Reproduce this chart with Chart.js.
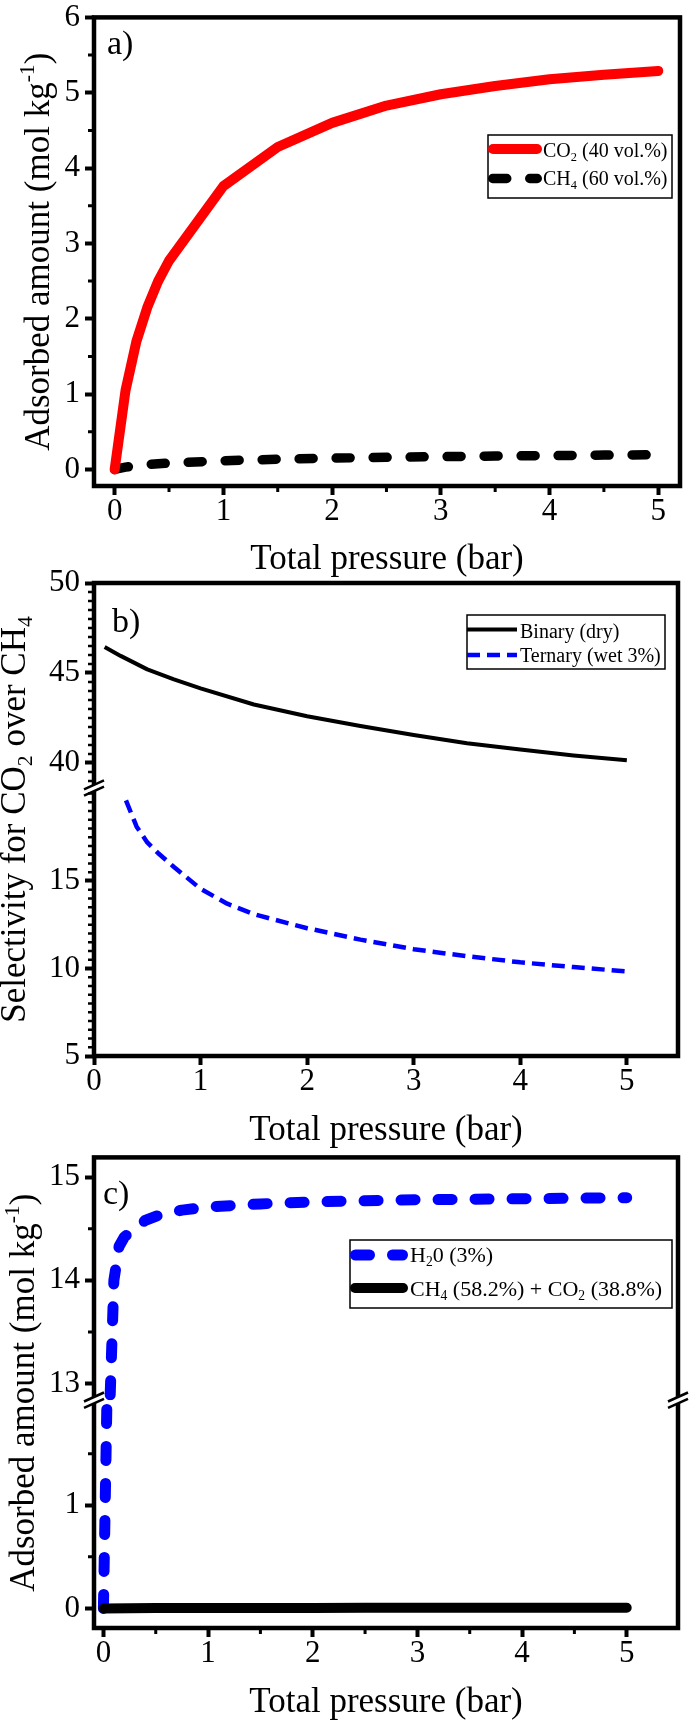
<!DOCTYPE html>
<html>
<head>
<meta charset="utf-8">
<script src="https://cdn.jsdelivr.net/npm/chart.js@4/dist/chart.umd.min.js"></script>
<style>
  html, body { margin: 0; padding: 0; background: #fff; }
  #wrap { position: relative; width: 690px; height: 1720px; overflow: hidden; }
  canvas { position: absolute; left: 0; }
</style>
</head>
<body>
<div id="wrap">
  <canvas id="chartA" width="690" height="578" style="top:0px"></canvas>
  <canvas id="chartB" width="690" height="590" style="top:560px"></canvas>
  <canvas id="chartC" width="690" height="580" style="top:1140px"></canvas>
</div>
<script>
var SERIF = '"Liberation Serif", "Times New Roman", serif';

// a) adsorption of the CO2/CH4 (40/60) mixture
var aPressure = [0, 0.1, 0.2, 0.3, 0.4, 0.5, 1, 1.5, 2, 2.5, 3, 3.5, 4, 4.5, 5];
var aCO2 = [0, 1.05, 1.7, 2.15, 2.5, 2.77, 3.76, 4.28, 4.6, 4.83, 4.98, 5.09, 5.18, 5.24, 5.29];
var aCH4 = [0, 0.03, 0.05, 0.065, 0.075, 0.085, 0.115, 0.135, 0.15, 0.16, 0.17, 0.178, 0.184, 0.19, 0.195];
var aXTicks = [0, 1, 2, 3, 4, 5];
var aYTicks = [0, 1, 2, 3, 4, 5, 6];

// b) selectivity CO2 over CH4
var bPressureDry = [0.1, 0.25, 0.5, 0.75, 1, 1.5, 2, 2.5, 3, 3.5, 4, 4.5, 5];
var bBinary = [46.45, 45.95, 45.2, 44.65, 44.15, 43.25, 42.6, 42.05, 41.55, 41.1, 40.75, 40.42, 40.15];
var bPressureWet = [0.3, 0.4, 0.5, 0.6, 0.75, 1, 1.25, 1.5, 2, 2.5, 3, 3.5, 4, 4.5, 5];
var bTernary = [19.6, 18.1, 17.2, 16.6, 15.8, 14.55, 13.7, 13.1, 12.3, 11.65, 11.1, 10.7, 10.35, 10.08, 9.83];
var bXTicks = [0, 1, 2, 3, 4, 5];
var bYLowTicks = [5, 10, 15];
var bYHighTicks = [40, 45, 50];

// c) ternary mixture with 3% water
var cPressure = [0, 0.05, 0.065, 0.1, 0.15, 0.2, 0.3, 0.4, 0.5, 0.75, 1, 1.5, 2, 2.5, 3, 3.5, 4, 4.5, 5];
var cH2O = [0, 3.0, 12.9, 14.0, 14.33, 14.42, 14.5, 14.58, 14.62, 14.68, 14.71, 14.74, 14.76, 14.77, 14.78, 14.785, 14.79, 14.795, 14.8];
var cGasPressure = [0, 0.5, 1, 1.5, 2, 2.5, 3, 3.5, 4, 4.5, 5];
var cGas = [0, 0.003, 0.004, 0.005, 0.005, 0.006, 0.006, 0.006, 0.007, 0.007, 0.007];
var cXTicks = [0, 1, 2, 3, 4, 5];
var cYLowTicks = [0, 1];
var cYHighTicks = [13, 14, 15];


function pts(xs, ys) {
    return xs.map(function (x, i) { return {x: x, y: ys[i]}; });
}

function minors(from, to, step, majors) {
    var out = [];
    for (var v = from; v <= to + 1e-9; v += step) {
        var r = Math.round(v * 100) / 100;
        if (majors.indexOf(r) < 0) out.push(r);
    }
    return out;
}

// text with unicode sub/superscripts drawn as small raised/lowered digits
var SUBS = {'₀':'0','₁':'1','₂':'2','₃':'3','₄':'4','₅':'5','₆':'6','₇':'7','₈':'8','₉':'9'};
var SUPS = {'⁻':'-','⁰':'0','¹':'1','²':'2','³':'3'};

function runsOf(text) {
    var runs = [];
    for (var ch of text) {
        var kind = SUBS[ch] ? 'sub' : (SUPS[ch] ? 'sup' : 'n');
        var c = SUBS[ch] || SUPS[ch] || ch;
        var last = runs[runs.length - 1];
        if (last && last.kind === kind) last.t += c;
        else runs.push({t: c, kind: kind});
    }
    return runs;
}

function fontOf(size) { return size + 'px ' + SERIF; }

function richWidth(ctx, text, size) {
    var w = 0;
    runsOf(text).forEach(function (r) {
        ctx.font = fontOf(r.kind === 'n' ? size : size * 0.62);
        w += ctx.measureText(r.t).width;
    });
    return w;
}

function drawRich(ctx, text, x, y, size, align) {
    if (align === 'center') x -= richWidth(ctx, text, size) / 2;
    ctx.textAlign = 'left';
    ctx.textBaseline = 'alphabetic';
    ctx.fillStyle = '#000';
    runsOf(text).forEach(function (r) {
        var s = r.kind === 'n' ? size : size * 0.62;
        var dy = r.kind === 'sub' ? size * 0.2 : (r.kind === 'sup' ? -size * 0.42 : 0);
        ctx.font = fontOf(s);
        ctx.fillText(r.t, x, y + dy);
        x += ctx.measureText(r.t).width;
    });
}

function drawBreak(ctx, x, y) {
    var k = -0.45, d = 3.2, hw = 10;
    ctx.fillStyle = '#fff';
    ctx.beginPath();
    ctx.moveTo(x - 4, y - d - 4 * k);
    ctx.lineTo(x + 4, y - d + 4 * k);
    ctx.lineTo(x + 4, y + d + 4 * k);
    ctx.lineTo(x - 4, y + d - 4 * k);
    ctx.closePath();
    ctx.fill();
    ctx.strokeStyle = '#000';
    ctx.lineWidth = 2.5;
    ctx.beginPath();
    [-d, d].forEach(function (o) {
        ctx.moveTo(x - hw, y + o - hw * k);
        ctx.lineTo(x + hw, y + o + hw * k);
    });
    ctx.stroke();
}

// frame, minor ticks, axis breaks, legend box, axis titles, panel letter
var deco = {
    id: 'deco',
    afterDatasetsDraw: function (chart, args, opts) {
        var ctx = chart.ctx, area = chart.chartArea;
        ctx.save();
        ctx.setLineDash([]);
        ctx.lineCap = 'butt';

        (opts.minor || []).forEach(function (m) {
            var sc = chart.scales[m.axis];
            ctx.strokeStyle = '#000';
            ctx.lineWidth = m.width;
            ctx.beginPath();
            m.values.forEach(function (v) {
                var p = sc.getPixelForValue(v);
                if (sc.isHorizontal()) { ctx.moveTo(p, area.bottom); ctx.lineTo(p, area.bottom + m.len); }
                else { ctx.moveTo(area.left, p); ctx.lineTo(area.left - m.len, p); }
            });
            ctx.stroke();
        });

        ctx.strokeStyle = '#000';
        ctx.lineWidth = opts.frame;
        ctx.strokeRect(area.left, area.top, area.right - area.left, area.bottom - area.top);

        (opts.breaks || []).forEach(function (b) {
            var y = chart.scales[b.axis].bottom;
            b.sides.forEach(function (side) {
                drawBreak(ctx, side === 'left' ? area.left : area.right, y);
            });
        });

        var L = opts.legend;
        if (L) {
            ctx.lineWidth = 1.5;
            ctx.strokeStyle = '#000';
            ctx.strokeRect(L.x, L.y, L.w, L.h);
            L.rows.forEach(function (row) {
                var ds = chart.data.datasets[row.ds];
                var cap = ds.borderCapStyle || 'butt';
                var hw = cap === 'round' ? ds.borderWidth / 2 : 0;
                ctx.strokeStyle = ds.borderColor;
                ctx.lineWidth = ds.borderWidth;
                ctx.lineCap = cap;
                ctx.setLineDash(ds.borderDash || []);
                ctx.beginPath();
                ctx.moveTo(L.x + hw, row.lineY);
                ctx.lineTo(L.x1 - hw, row.lineY);
                ctx.stroke();
                ctx.setLineDash([]);
                drawRich(ctx, ds.label, L.textX, row.baseY, L.font, 'left');
            });
        }

        drawRich(ctx, opts.xTitle.text, (area.left + area.right) / 2, opts.xTitle.y, 35, 'center');
        ctx.save();
        ctx.translate(opts.yTitle.x, (area.top + area.bottom) / 2);
        ctx.rotate(-Math.PI / 2);
        drawRich(ctx, opts.yTitle.text, 0, 0, 35, 'center');
        ctx.restore();
        drawRich(ctx, opts.letter.text, opts.letter.x, opts.letter.y, 34, 'left');
        ctx.restore();
    }
};

function xAxis(min, max, ticks, h) {
    return {
        type: 'linear', position: 'bottom', min: min, max: max,
        afterBuildTicks: function (s) { s.ticks = ticks.map(function (v) { return {value: v}; }); },
        afterFit: function (s) { s.height = h; },
        grid: {drawOnChartArea: false, drawTicks: true, tickLength: 9, tickWidth: 4, tickColor: '#000'},
        border: {display: false},
        ticks: {autoSkip: false, maxRotation: 0, padding: 1, color: '#000', font: {family: SERIF, size: 31, lineHeight: 1}}
    };
}

function yAxis(min, max, ticks, stackWeight) {
    var ax = {
        type: 'linear', position: 'left', min: min, max: max,
        afterBuildTicks: function (s) { s.ticks = ticks.map(function (v) { return {value: v}; }); },
        afterFit: function (s) { s.width = 94; },
        grid: {drawOnChartArea: false, drawTicks: true, tickLength: 9, tickWidth: 4, tickColor: '#000'},
        border: {display: false},
        ticks: {autoSkip: false, padding: 5, color: '#000', font: {family: SERIF, size: 31, lineHeight: 0.8}}
    };
    if (stackWeight) { ax.stack = 'left'; ax.stackWeight = stackWeight; }
    return ax;
}

function line(label, xs, ys, color, width, dash, cap, yId) {
    return {
        label: label, data: pts(xs, ys), showLine: true,
        borderColor: color, backgroundColor: color, borderWidth: width,
        borderDash: dash, borderCapStyle: cap, borderJoinStyle: 'round',
        pointRadius: 0, pointHoverRadius: 0, tension: 0, clip: 0,
        xAxisID: 'x', yAxisID: yId
    };
}

function options(padding, scales, decoOpts) {
    return {
        responsive: false, animation: false, events: [],
        layout: {padding: padding},
        scales: scales,
        plugins: {legend: {display: false}, tooltip: {enabled: false}, deco: decoOpts}
    };
}

new Chart(document.getElementById('chartA'), {
    type: 'scatter',
    data: {datasets: [
        line('CO₂ (40 vol.%)', aPressure, aCO2, '#ff0000', 10, [], 'round', 'y'),
        line('CH₄ (60 vol.%)', aPressure, aCH4, '#000000', 9.5, [14, 23], 'round', 'y')
    ]},
    options: options({top: 13, right: 10, left: 0, bottom: 0}, {
        x: xAxis(-0.19, 5.2, aXTicks, 92),
        y: yAxis(-0.22, 6, aYTicks)
    }, {
        frame: 4.5,
        minor: [
            {axis: 'x', values: minors(0, 5, 0.5, aXTicks), len: 6, width: 3},
            {axis: 'y', values: minors(0, 6, 0.5, aYTicks), len: 6, width: 3}
        ],
        xTitle: {text: 'Total pressure (bar)', y: 569},
        yTitle: {text: 'Adsorbed amount (mol kg⁻¹)', x: 49},
        letter: {text: 'a)', x: 107, y: 54},
        legend: {x: 488, y: 135, w: 184, h: 63, x1: 542, textX: 543, font: 20,
                 rows: [{ds: 0, lineY: 149, baseY: 157}, {ds: 1, lineY: 178.5, baseY: 185}]}
    }),
    plugins: [deco]
});

new Chart(document.getElementById('chartB'), {
    type: 'scatter',
    data: {datasets: [
        line('Binary (dry)', bPressureDry, bBinary, '#000000', 4, [], 'butt', 'yHigh'),
        line('Ternary (wet 3%)', bPressureWet, bTernary, '#0000ff', 4.5, [13, 7], 'butt', 'yLow')
    ]},
    options: options({top: 23, right: 12, left: 0, bottom: 0}, {
        x: xAxis(0, 5.48, bXTicks, 94),
        yLow: yAxis(5, 20.31, bYLowTicks, 268),
        yHigh: yAxis(38.61, 50, bYHighTicks, 205)
    }, {
        frame: 4.5,
        minor: [
            {axis: 'yLow', values: minors(5, 20, 0.5, bYLowTicks), len: 6, width: 2.5},
            {axis: 'yHigh', values: minors(39, 50, 0.5, bYHighTicks), len: 6, width: 2.5}
        ],
        breaks: [{axis: 'yHigh', sides: ['left']}],
        xTitle: {text: 'Total pressure (bar)', y: 580},
        yTitle: {text: 'Selectivity for CO₂ over CH₄', x: 25},
        letter: {text: 'b)', x: 112, y: 72},
        legend: {x: 467, y: 55, w: 198, h: 54, x1: 517, textX: 520, font: 20,
                 rows: [{ds: 0, lineY: 69.5, baseY: 78}, {ds: 1, lineY: 95, baseY: 102}]}
    }),
    plugins: [deco]
});

new Chart(document.getElementById('chartC'), {
    type: 'scatter',
    data: {datasets: [
        line('CH₄ (58.2%) + CO₂ (38.8%)', cGasPressure, cGas, '#000000', 10, [], 'round', 'yLow'),
        line('H₂0 (3%)', cPressure, cH2O, '#0000ff', 11, [14, 23], 'round', 'yHigh'),
        line('H₂0 (3%)', cPressure, cH2O, '#0000ff', 11, [14, 23], 'round', 'yLow')
    ]},
    options: options({top: 17, right: 12, left: 0, bottom: 0}, {
        x: xAxis(-0.09, 5.49, cXTicks, 92),
        yLow: yAxis(-0.19, 2.02, cYLowTicks, 228),
        yHigh: yAxis(12.84, 15.19, cYHighTicks, 243)
    }, {
        frame: 4.5,
        minor: [
            {axis: 'x', values: minors(0, 5, 0.5, cXTicks), len: 6, width: 3},
            {axis: 'yLow', values: [0.5, 1.5], len: 6, width: 3},
            {axis: 'yHigh', values: [13.5, 14.5], len: 6, width: 3}
        ],
        breaks: [{axis: 'yHigh', sides: ['left', 'right']}],
        xTitle: {text: 'Total pressure (bar)', y: 572},
        yTitle: {text: 'Adsorbed amount (mol kg⁻¹)', x: 34},
        letter: {text: 'c)', x: 103, y: 64},
        legend: {x: 350, y: 100, w: 322, h: 68, x1: 408, textX: 410, font: 22,
                 rows: [{ds: 1, lineY: 115, baseY: 122}, {ds: 0, lineY: 148, baseY: 156}]}
    }),
    plugins: [deco]
});
</script>
</body>
</html>
